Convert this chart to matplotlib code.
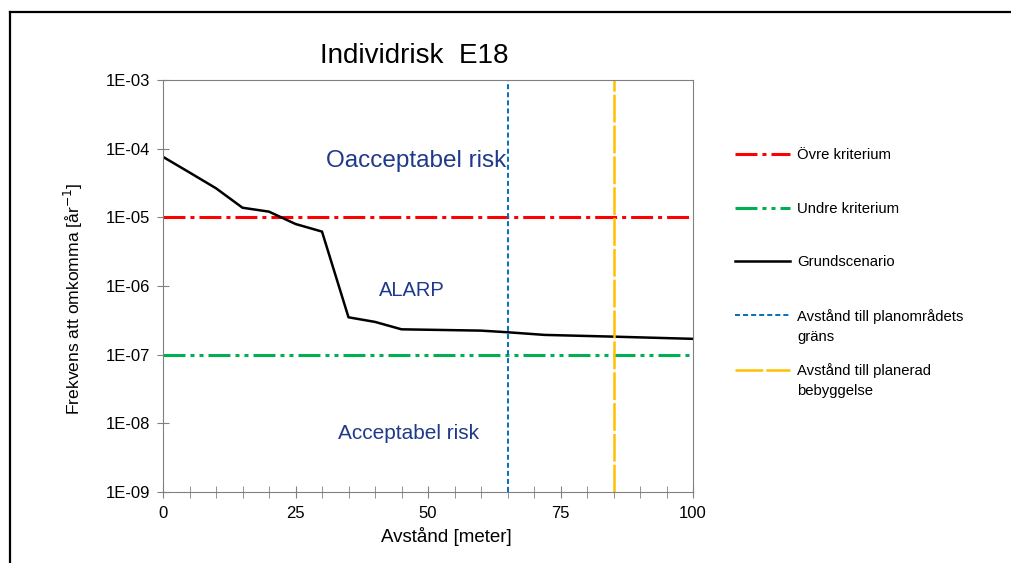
import matplotlib.pyplot as plt
from matplotlib.lines import Line2D

plt.rcParams['font.family'] = ['Liberation Sans', 'DejaVu Sans']
plt.rcParams['lines.scale_dashes'] = False

# distance [m] and individual risk [1/year]
avstand = [0, 5, 10, 15, 20, 25, 30, 35, 40, 45, 60, 65, 72, 85, 100]
risk = [7.6e-5, 4.5e-5, 2.65e-5, 1.38e-5, 1.21e-5, 8.0e-6, 6.2e-6, 3.5e-7,
        3.0e-7, 2.34e-7, 2.24e-7, 2.12e-7, 1.94e-7, 1.83e-7, 1.70e-7]

ovre = 1e-5
undre = 1e-7
plangrans = 65
bebyggelse = 85

fig = plt.figure(figsize=(10.11, 5.63), dpi=100)
ax = fig.add_axes([163/1011, 71/563, 530/1011, 412/563])

ax.axhline(ovre, color='#ff0000', lw=2.2, dashes=(15.8, 3.6, 2.9, 3.6), label='Övre kriterium')
ax.axhline(undre, color='#00b050', lw=2.2, dashes=(15.8, 3.6, 2.9, 3.6, 2.9, 3.6), label='Undre kriterium')
ax.plot(avstand, risk, color='black', lw=1.8, label='Grundscenario')
ax.axvline(plangrans, color='#0070c0', lw=1.4, dashes=(3.6, 2.2), label='Avstånd till planområdets')
ax.axvline(bebyggelse, color='#ffc000', lw=1.8, dashes=(20, 2.2), label='Avstånd till planerad')

ax.set_yscale('log')
ax.set_ylim(1e-9, 1e-3)
ax.set_xlim(0, 100)
ax.set_xticks([0, 25, 50, 75, 100])
ax.set_xticks(range(0, 101, 5), minor=True)
ax.set_yticks([10.0**e for e in range(-9, -2)])
ax.set_yticklabels(['1E-%02d' % e for e in range(9, 2, -1)])
ax.yaxis.set_minor_locator(plt.NullLocator())
ax.tick_params(axis='both', which='both', direction='inout', color='#808080', labelsize=12)
ax.tick_params(axis='both', which='major', length=8)
ax.tick_params(axis='x', which='minor', length=8)
ax.tick_params(axis='y', pad=5)
ax.tick_params(axis='x', pad=6)
for s in ax.spines.values():
    s.set_color('#808080')

ax.set_xlabel('Avstånd [meter]', fontsize=13.5)
ax.xaxis.set_label_coords(0.534, -0.086)
ax.set_ylabel('Frekvens att omkomma [år$^{-1}$]', fontsize=12.6)
ax.yaxis.set_label_coords(-0.148, 0.47)
ax.set_title('Individrisk  E18', fontsize=20, pad=12, x=0.4736)

tc = '#1f3a8a'
ax.text(47.7, 6.6e-5, 'Oacceptabel risk', color=tc, ha='center', va='center', fontsize=17.5)
ax.text(47, 8.7e-7, 'ALARP', color=tc, ha='center', va='center', fontsize=14.5)
ax.text(46.4, 7.0e-9, 'Acceptabel risk', color=tc, ha='center', va='center', fontsize=15)

leg = ax.legend(loc='upper left', bbox_to_anchor=(728/1011, 1 - 141/563),
                bbox_transform=fig.transFigure, frameon=False, fontsize=10.7,
                handlelength=3.7, handletextpad=0.45, labelspacing=2.65, borderpad=0)
fig.text(797/1011, 1 - 337/563, 'gräns', fontsize=10.7, va='center')
fig.text(797/1011, 1 - 391/563, 'bebyggelse', fontsize=10.7, va='center')

# outer frame
fig.add_artist(Line2D([10/1011, 1], [1 - 12/563, 1 - 12/563], transform=fig.transFigure, color='black', lw=1.6))
fig.add_artist(Line2D([10/1011, 10/1011], [0, 1 - 12/563], transform=fig.transFigure, color='black', lw=1.6))

fig.savefig('out.png', dpi=100)
